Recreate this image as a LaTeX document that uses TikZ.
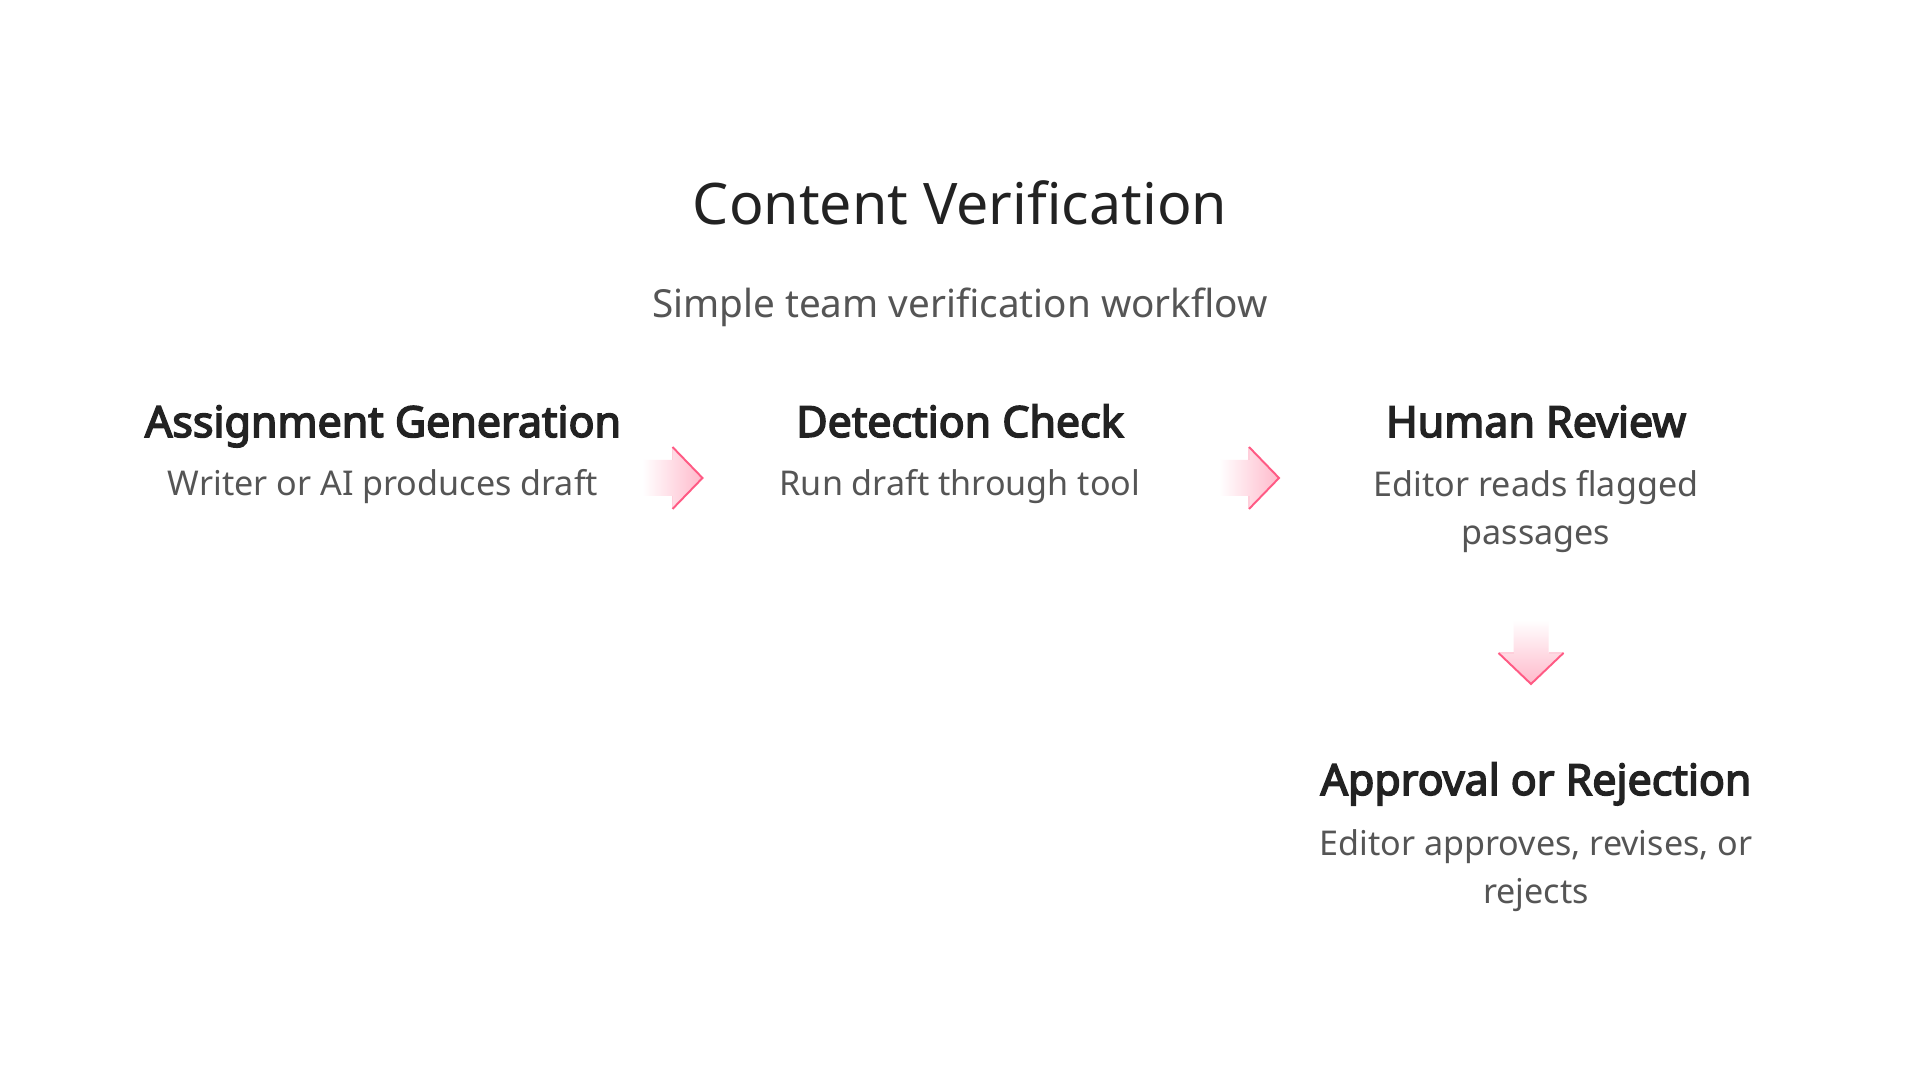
\documentclass[tikz,border=0pt]{standalone}
\usepackage{fontspec}
\setmainfont{Noto Sans}[AutoFakeBold=3.6]
\usetikzlibrary{positioning, calc}
\definecolor{inkdark}{HTML}{222222}
\definecolor{inkgray}{HTML}{555555}
\definecolor{arrowpink}{HTML}{FF3D6E}
% block arrows between the steps
\newcommand{\rightflow}[1]{%
  \begin{scope}[shift={(#1)}]
    \shade[left color=white, right color=arrowpink!36] (-29,-18) -- (1,-18) -- (1,-31) -- (31,0) -- (1,31) -- (1,18) -- (-29,18) -- cycle;
    \draw[arrowpink!25, line width=0.4pt] (1,-18) -- (1,-31);
    \draw[arrowpink!25, line width=0.4pt] (1,18) -- (1,31);
    \draw[arrowpink!85, line width=0.55pt, line join=miter] (1,-31) -- (31,0) -- (1,31);
  \end{scope}}
\newcommand{\downflow}[1]{%
  \begin{scope}[shift={(#1)}]
    \shade[top color=white, bottom color=arrowpink!36] (-17.5,-33) -- (-17.5,0) -- (-32.5,0) -- (0,31) -- (32.5,0) -- (17.5,0) -- (17.5,-33) -- cycle;
    \draw[arrowpink!25, line width=0.4pt] (-17.5,0) -- (-32.5,0);
    \draw[arrowpink!25, line width=0.4pt] (17.5,0) -- (32.5,0);
    \draw[arrowpink!85, line width=0.55pt, line join=miter] (-32.5,0) -- (0,31) -- (32.5,0);
  \end{scope}}

\begin{document}
\begin{tikzpicture}[
    x=0.01cm, y=-0.01cm,
    title/.style={font=\fontsize{16.3}{19}\selectfont, text=inkdark, inner sep=0pt, anchor=base},
    subtitle/.style={font=\fontsize{11}{13}\selectfont, text=inkgray, inner sep=0pt, anchor=base},
    head/.style={font=\fontsize{12.2}{15}\selectfont\bfseries, text=inkdark, inner sep=0pt, anchor=base},
    desc/.style={font=\fontsize{9.7}{13.9}\selectfont, text=inkgray, inner sep=0pt, align=center, anchor=base},
]
\fill[white] (0,0) rectangle (1920,1080);
\node[title] (ttl) at (960,225) {Content Verification};
\node[subtitle] (sub) at (960,318) {Simple team verification workflow};

\node[head] (h1) at (383,437) {Assignment Generation};
\node[head] (h2) at (960,437) {Detection Check};
\node[head] (h3) at (1536,437) {Human Review};
\node[head] (h4) at (1536,795) {Approval or Rejection};

% base of a two-line node sits on its last line
\node[desc] (d1) at ($(h1.base)+(0,59)$) {Writer or AI produces draft};
\node[desc] (d2) at ($(h2.base)+(0,59)$) {Run draft through tool};
\node[desc] (d3) at ($(h3.base)+(0,108)$) {Editor reads flagged\\passages};
\node[desc] (d4) at ($(h4.base)+(0,109)$) {Editor approves, revises, or\\rejects};

\coordinate (a1) at ($(h1.base)!0.5!(h2.base)+(0,41)$);
\coordinate (a2) at ($(h2.base)!0.5!(h3.base)+(0,41)$);
\coordinate (a3) at ($(h3.base)+(-5,216)$);
\rightflow{a1}
\rightflow{a2}
\downflow{a3}
\end{tikzpicture}
\end{document}
